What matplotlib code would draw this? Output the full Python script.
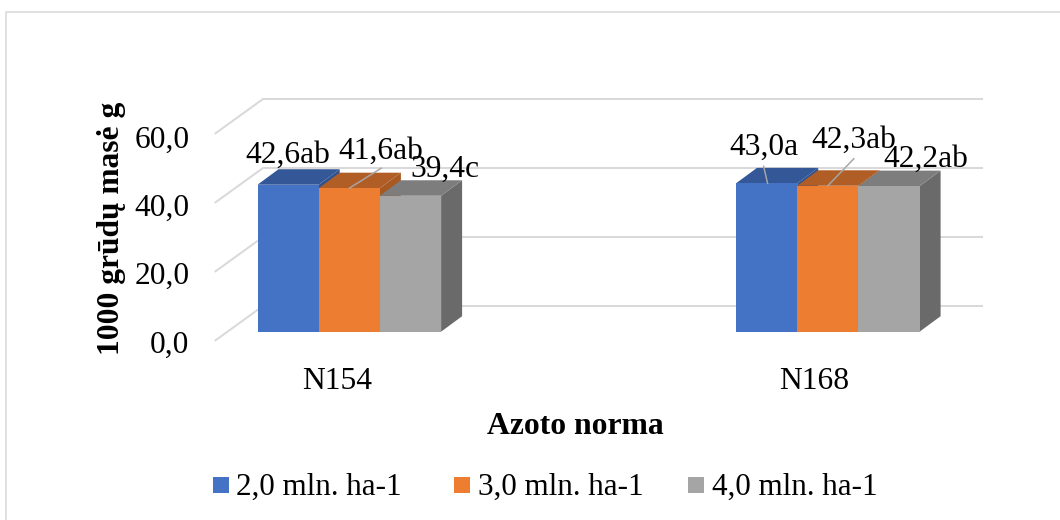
import matplotlib
matplotlib.use('Agg')
import matplotlib.pyplot as plt
from matplotlib.patches import Rectangle

plt.rcParams['font.family'] = ['Liberation Serif', 'DejaVu Serif']

categories = ['N154', 'N168']
series_names = ['2,0 mln. ha-1', '3,0 mln. ha-1', '4,0 mln. ha-1']
series_values = [[42.6, 43.0], [41.6, 42.3], [39.4, 42.2]]
letters = [['ab', 'a'], ['ab', 'ab'], ['c', 'ab']]
y_ticks = [0, 20, 40, 60]

front_colors = ['#4472c4', '#ed7d31', '#a5a5a5']
top_colors = ['#335797', '#b15e26', '#7d7d7d']
side_colors = ['#2f5290', '#a85922', '#6a6a6a']
grid_color = '#d9d9d9'

W, H = 1060, 520
DPI = 100
PX = 72 / DPI  # px -> pt
BASE_PX = 331.7  # y pixel of value 0 on the bar front
SCALE = 3.45  # px per unit
FONT = 31.5 * PX


def py(pixel):
    # pixel row to y data value
    return (BASE_PX - pixel) / SCALE


# 3d look, offsets in px (x) and value units (y)
BAR_DX, BAR_DY = 21, 15.5 / SCALE
WALL_X0, WALL_X1, WALL_XB = 215.5, 982, 263
WALL_FRONT, WALL_BACK = -2.5, 7.45

group_left = [257.5, 736]
bar_w = 61.2

# label position from the bar's front top left corner, px: (dx, baseline above top)
label_offset = [[(30.7, 21.7), (28, 28.3)], [(62.6, 29.2), (57.1, 37.8)], [(65.4, 18.8), (67.1, 19.1)]]
# leader lines from the bar's front top centre, px: (x0, y0, x1, y1)
leader = [[None, (1, 0, -3, 17)], [(0, 0, 32, 20), (0, 0, 26, 27)], [None, None]]

fig = plt.figure(figsize=(W / DPI, H / DPI), dpi=DPI)
ax = fig.add_axes([0, 0, 1, 1])
ax.set_xlim(0, W)
ax.set_ylim(py(H), py(0))
ax.axis('off')

# chart frame, only the left and top edges are in the crop
ax.plot([5.5, 5.5, W], [py(H), py(12), py(12)], color='#e0e0e0', lw=2 * PX, zorder=1)

# walls
for t in y_ticks:
    ax.plot([WALL_X0, WALL_XB, WALL_X1], [t + WALL_FRONT, t + WALL_BACK, t + WALL_BACK],
            color=grid_color, lw=2 * PX, zorder=1, solid_joinstyle='miter')
    ax.text(189.5, t * 0.99 + py(352.5), ('%.1f' % t).replace('.', ','),
            ha='right', va='baseline', fontsize=FONT, color='black')

z = 3
for g in range(len(categories)):
    for s in range(len(series_names)):
        x0 = group_left[g] + s * bar_w
        x1 = x0 + bar_w
        v = series_values[s][g]
        ax.fill([x1, x1 + BAR_DX, x1 + BAR_DX, x1], [0, BAR_DY, v + BAR_DY, v],
                color=side_colors[s], lw=0, zorder=z)
        ax.fill([x0, x0 + BAR_DX, x1 + BAR_DX, x1], [v, v + BAR_DY, v + BAR_DY, v],
                color=top_colors[s], lw=0, zorder=z)
        ax.bar(x0, v, width=bar_w, align='edge', color=front_colors[s], lw=0, zorder=z)
        z += 1

for g in range(len(categories)):
    for s in range(len(series_names)):
        x0 = group_left[g] + s * bar_w
        v = series_values[s][g]
        text = ('%.1f' % v).replace('.', ',') + letters[s][g]
        off = label_offset[s][g]
        ax.text(x0 + off[0], v + off[1] / SCALE, text, ha='center', va='baseline',
                fontsize=FONT, color='black', zorder=20)
        ln = leader[s][g]
        if ln is not None:
            lx = x0 + bar_w / 2
            ax.plot([lx + ln[0], lx + ln[2]], [v + ln[1] / SCALE, v + ln[3] / SCALE],
                    color='#a6a6a6', lw=1.5 * PX, zorder=19)

category_x = [336.7, 814.5]
for g in range(len(categories)):
    ax.text(category_x[g], py(389.3), categories[g], ha='center', va='baseline', fontsize=FONT)

ax.text(575.5, py(434), 'Azoto norma', ha='center', va='baseline',
        fontsize=31.7 * PX, fontweight='bold')
ax.text(119.5, py(228.5), '1000 grūdų masė g', ha='center', va='baseline',
        rotation=90, rotation_mode='anchor', fontsize=FONT, fontweight='bold')

# legend
legend_x = [213, 454, 688]
for s in range(len(series_names)):
    ax.add_patch(Rectangle((legend_x[s], py(493)), 16, 16 / SCALE, color=front_colors[s], lw=0))
    ax.text(legend_x[s] + 23.5, py(495), series_names[s], ha='left', va='baseline',
            fontsize=31.2 * PX)

fig.savefig('out.png', dpi=DPI)
